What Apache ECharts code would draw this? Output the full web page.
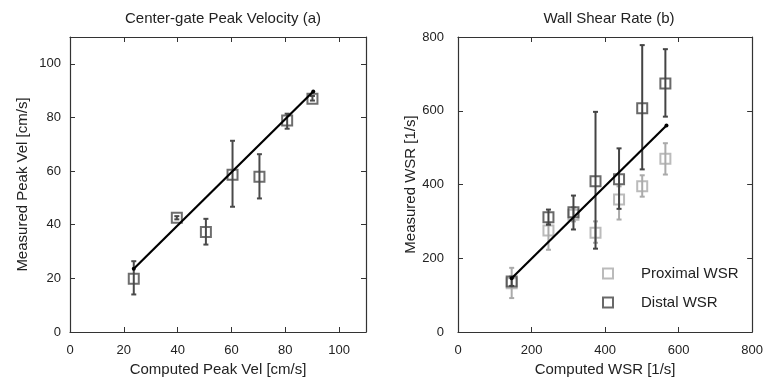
<!DOCTYPE html>
<html>
<head>
<meta charset="utf-8">
<script src="https://cdn.jsdelivr.net/npm/echarts@6/dist/echarts.min.js"></script>
<style>html,body{margin:0;padding:0;background:#fff}#c{width:766px;height:386px}</style>
</head>
<body>
<div id="c"></div>
<script>
// ---- Panel (a): Center-gate Peak Velocity ----
const velComputed = [23.7, 39.7, 50.5, 60.4, 70.4, 80.7, 90.1];
const velMeasured = [19.9, 42.6, 37.3, 58.6, 57.9, 78.9, 87.0];
const velErrLow   = [14.0, 42.0, 32.6, 46.7, 49.8, 75.8, 86.3];
const velErrHigh  = [26.4, 43.2, 42.2, 71.3, 66.3, 81.4, 88.0];
const velFitX = [23.7, 90.4];
const velFitY = [23.6, 89.7];

// ---- Panel (b): Wall Shear Rate ----
const wsrComputed = [146, 246, 314, 374, 438, 501, 564];
const wsrDistal     = [137, 311, 325, 409, 414, 607, 674];
const wsrDistalLow  = [125, 291, 278, 226, 334, 441, 584];
const wsrDistalHigh = [150, 332, 370, 597, 498, 778, 767];
const wsrProx     = [132, 275, 318, 269, 359, 395, 470];
const wsrProxLow  = [92, 223, 300, 242, 305, 367, 427];
const wsrProxHigh = [174, 296, 338, 300, 395, 425, 512];
const wsrFitX = [146, 567];
const wsrFitY = [146, 560];

const velTicks = [0, 20, 40, 60, 80, 100];
const wsrTicks = [0, 200, 400, 600, 800];

const FONT = 'Liberation Sans, Arial, sans-serif';
const FRAME = '#333';

function zip(a, b) { return a.map((v, i) => [v, b[i]]); }
function zip3(a, b, c) { return a.map((v, i) => [v, b[i], c[i]]); }

function errRenderer(color) {
  return function (params, api) {
    const x = api.value(0), lo = api.value(1), hi = api.value(2);
    const p1 = api.coord([x, lo]), p2 = api.coord([x, hi]);
    const w = 2.5;
    const style = { stroke: color, lineWidth: 2, fill: null };
    return {
      type: 'group',
      children: [
        { type: 'line', shape: { x1: p1[0], y1: p1[1], x2: p2[0], y2: p2[1] }, style },
        { type: 'line', shape: { x1: p1[0] - w, y1: p1[1], x2: p1[0] + w, y2: p1[1] }, style },
        { type: 'line', shape: { x1: p2[0] - w, y1: p2[1], x2: p2[0] + w, y2: p2[1] }, style }
      ]
    };
  };
}

function mkX(grid, max, interval, pos, name, show) {
  return {
    type: 'value', gridIndex: grid, min: 0, max: max, interval: interval, position: pos,
    name: show ? name : '', nameLocation: 'middle', nameGap: 30,
    nameTextStyle: { fontFamily: FONT, fontSize: 15, color: '#222' },
    axisLine: { show: true, onZero: false, lineStyle: { color: FRAME, width: 1.2 } },
    axisTick: { show: true, inside: true, length: 5, lineStyle: { color: FRAME, width: 1 } },
    axisLabel: { show: show, margin: 12, fontFamily: FONT, fontSize: 13, color: '#222',
      formatter: v => (v % interval === 0 ? String(v) : '') },
    splitLine: { show: false }
  };
}
function mkY(grid, max, interval, pos, name, show, nameGap, margin) {
  return {
    type: 'value', gridIndex: grid, min: 0, max: max, interval: interval, position: pos,
    name: show ? name : '', nameLocation: 'middle', nameGap: nameGap,
    nameTextStyle: { fontFamily: FONT, fontSize: 15, color: '#222' },
    axisLine: { show: true, onZero: false, lineStyle: { color: FRAME, width: 1.2 } },
    axisTick: { show: true, inside: true, length: 5, lineStyle: { color: FRAME, width: 1 } },
    axisLabel: { show: show, margin: margin, fontFamily: FONT, fontSize: 13, color: '#222',
      formatter: v => (v % interval === 0 ? String(v) : '') },
    splitLine: { show: false }
  };
}

const chart = echarts.init(document.getElementById('c'), null, { renderer: 'canvas' });
chart.setOption({
  animation: false,
  backgroundColor: '#fff',
  title: [
    { text: 'Center-gate Peak Velocity (a)', left: 218, top: 6, textAlign: 'center',
      textStyle: { fontFamily: FONT, fontSize: 15, fontWeight: 'normal', color: '#222' } },
    { text: 'Wall Shear Rate (b)', left: 604, top: 6, textAlign: 'center',
      textStyle: { fontFamily: FONT, fontSize: 15, fontWeight: 'normal', color: '#222' } }
  ],
  legend: {
    orient: 'vertical', left: 597, top: 261, itemWidth: 10, itemHeight: 10, itemGap: 14,
    textStyle: { fontFamily: FONT, fontSize: 15, color: '#222', padding: [0, 0, 0, 23] },
    data: [
      { name: 'Proximal WSR', icon: 'rect', itemStyle: { color: 'rgba(0,0,0,0)', borderColor: '#aaa', borderWidth: 2 } },
      { name: 'Distal WSR', icon: 'rect', itemStyle: { color: 'rgba(0,0,0,0)', borderColor: '#444', borderWidth: 2 } }
    ]
  },
  grid: [
    { left: 70, top: 37, width: 296, height: 295 },
    { left: 458, top: 37, width: 295, height: 295 }
  ],
  xAxis: [
    mkX(0, 110, 20, 'bottom', 'Computed Peak Vel [cm/s]', true),
    mkX(0, 110, 20, 'top', '', false),
    mkX(1, 800, 200, 'bottom', 'Computed WSR [1/s]', true),
    mkX(1, 800, 200, 'top', '', false)
  ],
  yAxis: [
    mkY(0, 110, 20, 'left', 'Measured Peak Vel [cm/s]', true, 40, 9),
    mkY(0, 110, 20, 'right', '', false, 0, 8),
    mkY(1, 800, 200, 'left', 'Measured WSR [1/s]', true, 33, 14),
    mkY(1, 800, 200, 'right', '', false, 0, 8)
  ],
  series: [
    { type: 'custom', name: 'velErr', xAxisIndex: 0, yAxisIndex: 0, z: 2,
      renderItem: errRenderer('#4a4a4a'), data: zip3(velComputed, velErrLow, velErrHigh) },
    { type: 'scatter', name: 'vel', xAxisIndex: 0, yAxisIndex: 0, z: 3, symbol: 'rect', symbolSize: 10,
      itemStyle: { color: 'rgba(0,0,0,0)', borderColor: '#4a4a4a', borderWidth: 2 },
      data: zip(velComputed, velMeasured) },
    { type: 'line', name: 'velFit', xAxisIndex: 0, yAxisIndex: 0, z: 4, symbol: 'circle', symbolSize: 4,
      showSymbol: true, itemStyle: { color: '#000' }, lineStyle: { color: '#000', width: 2.2 },
      data: zip(velFitX, velFitY) },

    { type: 'custom', name: 'proxErr', xAxisIndex: 2, yAxisIndex: 2, z: 2,
      renderItem: errRenderer('#aaa'), data: zip3(wsrComputed, wsrProxLow, wsrProxHigh) },
    { type: 'scatter', name: 'Proximal WSR', xAxisIndex: 2, yAxisIndex: 2, z: 3, symbol: 'rect', symbolSize: 10,
      itemStyle: { color: 'rgba(0,0,0,0)', borderColor: '#aaa', borderWidth: 2 },
      data: zip(wsrComputed, wsrProx) },
    { type: 'custom', name: 'distErr', xAxisIndex: 2, yAxisIndex: 2, z: 4,
      renderItem: errRenderer('#444'), data: zip3(wsrComputed, wsrDistalLow, wsrDistalHigh) },
    { type: 'scatter', name: 'Distal WSR', xAxisIndex: 2, yAxisIndex: 2, z: 5, symbol: 'rect', symbolSize: 10,
      itemStyle: { color: 'rgba(0,0,0,0)', borderColor: '#444', borderWidth: 2 },
      data: zip(wsrComputed, wsrDistal) },
    { type: 'line', name: 'wsrFit', xAxisIndex: 2, yAxisIndex: 2, z: 6, symbol: 'circle', symbolSize: 4,
      showSymbol: true, itemStyle: { color: '#000' }, lineStyle: { color: '#000', width: 2.2 },
      data: zip(wsrFitX, wsrFitY) }
  ]
});
</script>
</body>
</html>
